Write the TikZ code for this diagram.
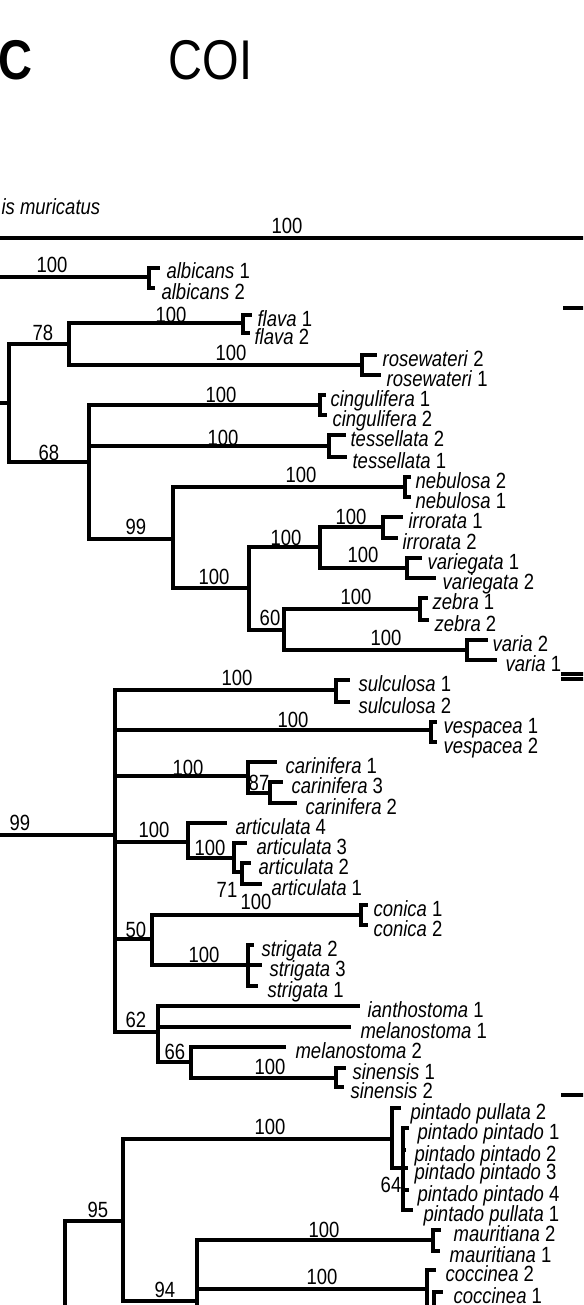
\documentclass[tikz,border=0pt]{standalone}
\usepackage{fontspec}
\setmainfont{Liberation Sans}
\newfontfamily\narfont[FakeStretch=0.84]{Liberation Sans}
\newcommand\leaf[5]{\coordinate (#1) at (#2,#3); \node[tax] (#1l) at (#4,{#3+11}) {#5};}
\newcommand\bs[4]{\node[num] (#1) at (#2,#3) {#4};}
\begin{document}
\begin{tikzpicture}[x=1pt,y=-1pt,line width=3.2pt, line join=miter,
  num/.style={font={\narfont\fontsize{22}{24}\selectfont}, inner sep=0pt, anchor=center},
  tax/.style={font={\narfont\fontsize{22}{24}\selectfont}, inner sep=0pt, anchor=base west},
  ttl/.style={font={\narfont\fontsize{56}{60}\selectfont}, inner sep=0pt, anchor=base west}]
\useasboundingbox (0,0) rectangle (583,1305);
\clip (0,0) rectangle (583,1305);
\fill[white] (0,0) rectangle (583,1305);
% titles
\node[ttl,font={\narfont\bfseries\fontsize{56}{60}\selectfont}] (ttlC) at (-3,80) {C};
\node[ttl] (ttlCOI) at (167,80) {COI};
% outgroup / root
\node[tax] (outg) at (0,215) {\textit{is muricatus}};
\coordinate (oL) at (0,238); \coordinate (oR) at (590,238);
\draw (oL) -- (oR);
\bs{b0}{287}{226}{100}
% right marks
\coordinate (m1a) at (563,308); \coordinate (m1b) at (590,308);
\coordinate (m2a) at (561,674); \coordinate (m2b) at (590,674);
\coordinate (m3a) at (561,679); \coordinate (m3b) at (590,679);
\coordinate (m4a) at (561,1095); \coordinate (m4b) at (590,1095);
\draw (m1a) -- (m1b); \draw (m2a) -- (m2b); \draw (m3a) -- (m3b); \draw (m4a) -- (m4b);
% albicans
\coordinate (albP) at (0,277); \coordinate (albB) at (149,277);
\draw (albP) -- (albB);
\bs{b1}{52}{265}{100}
\leaf{alb1}{160}{268}{165}{\textit{albicans} 1}
\leaf{alb2}{155}{288}{160}{\textit{albicans} 2}
\draw (albB) |- (alb1); \draw (albB) |- (alb2);
% clade A
\coordinate (AP) at (0,403); \coordinate (nA) at (9,403);
\draw (AP) -- (nA);
\coordinate (n78) at (69,344); \draw (nA) |- (n78); \bs{b2}{43}{333}{78}
\coordinate (flaB) at (243,323); \draw (n78) |- (flaB); \bs{b3}{171}{315}{100}
\leaf{fla1}{252}{315}{256}{\textit{flava} 1}
\leaf{fla2}{250}{333}{253}{\textit{flava} 2}
\draw (flaB) |- (fla1); \draw (flaB) |- (fla2);
\coordinate (rosB) at (362,365); \draw (n78) |- (rosB); \bs{b4}{231}{353}{100}
\leaf{ros2}{377}{355}{381}{\textit{rosewateri} 2}
\leaf{ros1}{381}{375}{385}{\textit{rosewateri} 1}
\draw (rosB) |- (ros2); \draw (rosB) |- (ros1);
\coordinate (n68) at (89,462); \draw (nA) |- (n68); \bs{b5}{49}{453}{68}
\coordinate (cinB) at (320,405); \draw (n68) |- (cinB); \bs{b6}{221}{395}{100}
\leaf{cin1}{326}{395}{329}{\textit{cingulifera} 1}
\leaf{cin2}{327}{415}{331}{\textit{cingulifera} 2}
\draw (cinB) |- (cin1); \draw (cinB) |- (cin2);
\coordinate (tesB) at (329,446); \draw (n68) |- (tesB); \bs{b7}{223}{438}{100}
\leaf{tes2}{346}{435}{349}{\textit{tessellata} 2}
\leaf{tes1}{347}{457}{351}{\textit{tessellata} 1}
\draw (tesB) |- (tes2); \draw (tesB) |- (tes1);
\coordinate (n99) at (173,539); \draw (n68) |- (n99); \bs{b8}{136}{527}{99}
\coordinate (nebB) at (405,487); \draw (n99) |- (nebB); \bs{b9}{301}{475}{100}
\leaf{neb2}{411}{477}{414}{\textit{nebulosa} 2}
\leaf{neb1}{411}{497}{414}{\textit{nebulosa} 1}
\draw (nebB) |- (neb2); \draw (nebB) |- (neb1);
\coordinate (nAa) at (249,588); \draw (n99) |- (nAa); \bs{b10}{214}{577}{100}
\coordinate (nBb) at (320,547); \draw (nAa) |- (nBb); \bs{b11}{286}{538}{100}
\coordinate (irrB) at (383,527); \draw (nBb) |- (irrB); \bs{b12}{351}{517}{100}
\leaf{irr1}{403}{517}{407}{\textit{irrorata} 1}
\leaf{irr2}{398}{538}{401}{\textit{irrorata} 2}
\draw (irrB) |- (irr1); \draw (irrB) |- (irr2);
\coordinate (vrgB) at (407,568); \draw (nBb) |- (vrgB); \bs{b13}{363}{555}{100}
\leaf{vrg1}{422}{558}{426}{\textit{variegata} 1}
\leaf{vrg2}{436}{578}{441}{\textit{variegata} 2}
\draw (vrgB) |- (vrg1); \draw (vrgB) |- (vrg2);
\coordinate (n60) at (284,630); \draw (nAa) |- (n60); \bs{b14}{270}{618}{60}
\coordinate (zebB) at (420,609); \draw (n60) |- (zebB); \bs{b15}{356}{597}{100}
\leaf{zeb1}{428}{598}{431}{\textit{zebra} 1}
\leaf{zeb2}{429}{620}{433}{\textit{zebra} 2}
\draw (zebB) |- (zeb1); \draw (zebB) |- (zeb2);
\coordinate (vriB) at (467,650); \draw (n60) |- (vriB); \bs{b16}{386}{638}{100}
\leaf{vri2}{488}{640}{491}{\textit{varia} 2}
\leaf{vri1}{497}{660}{504}{\textit{varia} 1}
\draw (vriB) |- (vri2); \draw (vriB) |- (vri1);
% clade B
\coordinate (BP) at (0,835); \coordinate (nC) at (115,835);
\draw (BP) -- (nC); \bs{b17}{20}{823}{99}
\coordinate (sulB) at (336,690); \draw (nC) |- (sulB); \bs{b18}{237}{678}{100}
\leaf{sul1}{350}{680}{357}{\textit{sulculosa} 1}
\leaf{sul2}{350}{702}{357}{\textit{sulculosa} 2}
\draw (sulB) |- (sul1); \draw (sulB) |- (sul2);
\coordinate (vesB) at (431,730); \draw (nC) |- (vesB); \bs{b19}{293}{720}{100}
\leaf{ves1}{437}{722}{442}{\textit{vespacea} 1}
\leaf{ves2}{437}{742}{442}{\textit{vespacea} 2}
\draw (vesB) |- (ves1); \draw (vesB) |- (ves2);
\coordinate (cara) at (248,776); \draw (nC) |- (cara); \bs{b20}{188}{768}{100}
\leaf{car1}{277}{762}{284}{\textit{carinifera} 1}
\draw (cara) |- (car1);
\coordinate (carb) at (270,793); \draw (cara) |- (carb); \bs{b21}{259}{783}{87}
\leaf{car3}{283}{782}{290}{\textit{carinifera} 3}
\leaf{car2}{297}{803}{304}{\textit{carinifera} 2}
\draw (carb) |- (car3); \draw (carb) |- (car2);
\coordinate (arta) at (188,842); \draw (nC) |- (arta); \bs{b22}{154}{830}{100}
\leaf{art4}{227}{823}{234}{\textit{articulata} 4}
\draw (arta) |- (art4);
\coordinate (artb) at (234,858); \draw (arta) |- (artb); \bs{b23}{210}{848}{100}
\leaf{art3}{247}{843}{255}{\textit{articulata} 3}
\draw (artb) |- (art3);
\coordinate (artc) at (242,872); \draw (artb) |- (artc); \bs{b24}{227}{890}{71}
\leaf{art2}{251}{863}{257}{\textit{articulata} 2}
\leaf{art1}{262}{884}{270}{\textit{articulata} 1}
\draw (artc) |- (art2); \draw (artc) |- (art1);
\coordinate (n50) at (152,939); \draw (nC) |- (n50); \bs{b25}{136}{930}{50}
\coordinate (conB) at (361,915); \draw (n50) |- (conB); \bs{b26}{256}{902}{100}
\leaf{con1}{368}{905}{372}{\textit{conica} 1}
\leaf{con2}{368}{925}{372}{\textit{conica} 2}
\draw (conB) |- (con1); \draw (conB) |- (con2);
\coordinate (strB) at (248,965); \draw (n50) |- (strB); \bs{b27}{204}{955}{100}
\leaf{str2}{254}{945}{260}{\textit{strigata} 2}
\leaf{str3}{262}{965}{268}{\textit{strigata} 3}
\leaf{str1}{258}{986}{266}{\textit{strigata} 1}
\draw (strB) |- (str2); \draw (strB) |- (str3); \draw (strB) |- (str1);
\coordinate (n62) at (158,1032); \draw (nC) |- (n62); \bs{b28}{136}{1020}{62}
\leaf{ian1}{360}{1006}{366}{\textit{ianthostoma} 1}
\leaf{mel1}{351}{1027}{359}{\textit{melanostoma} 1}
\draw (n62) |- (ian1); \draw (n62) |- (mel1);
\coordinate (n66) at (191,1062); \draw (n62) |- (n66); \bs{b29}{175}{1052}{66}
\leaf{mel2}{286}{1047}{294}{\textit{melanostoma} 2}
\draw (n66) |- (mel2);
\coordinate (sinB) at (336,1078); \draw (n66) |- (sinB); \bs{b30}{270}{1067}{100}
\leaf{sin1}{346}{1068}{351}{\textit{sinensis} 1}
\leaf{sin2}{344}{1087}{349}{\textit{sinensis} 2}
\draw (sinB) |- (sin1); \draw (sinB) |- (sin2);
% clade C
\coordinate (c65) at (65,1320); \coordinate (n95) at (123,1221);
\draw (c65) |- (n95); \bs{b31}{98}{1210}{95}
\coordinate (pinB) at (392,1139); \draw (n95) |- (pinB); \bs{b32}{270}{1127}{100}
\leaf{pul2}{401}{1108}{409}{\textit{pintado pullata} 2}
\draw (pinB) |- (pul2);
\coordinate (n64) at (403,1168); \draw (pinB) |- (n64); \bs{b33}{391}{1185}{64}
\leaf{pin1}{409}{1128}{416}{\textit{pintado pintado} 1}
\leaf{pin2}{406}{1150}{413}{\textit{pintado pintado} 2}
\leaf{pin3}{408}{1168}{413}{\textit{pintado pintado} 3}
\leaf{pin4}{409}{1190}{416}{\textit{pintado pintado} 4}
\leaf{pul1}{413}{1210}{422}{\textit{pintado pullata} 1}
\draw (n64) |- (pin1); \draw (n64) |- (pin2); \draw (n64) |- (pin3);
\draw (n64) |- (pin4); \draw (n64) |- (pul1);
\coordinate (n94) at (197,1301); \draw (n95) |- (n94); \bs{b34}{165}{1290}{94}
\coordinate (n94d) at (197,1320); \draw (n94) -- (n94d);
\coordinate (mauB) at (433,1240); \draw (n94) |- (mauB); \bs{b35}{324}{1230}{100}
\leaf{mau2}{441}{1230}{452}{\textit{mauritiana} 2}
\leaf{mau1}{440}{1251}{448}{\textit{mauritiana} 1}
\draw (mauB) |- (mau2); \draw (mauB) |- (mau1);
\coordinate (cocB) at (427,1289); \draw (n94) |- (cocB); \bs{b36}{322}{1277}{100}
\leaf{coc2}{436}{1270}{444}{\textit{coccinea} 2}
\draw (cocB) |- (coc2);
\coordinate (cocN) at (434,1320); \draw (cocB) |- (cocN);
\leaf{coc1}{443}{1292}{452}{\textit{coccinea} 1}
\draw (cocN) |- (coc1);
\end{tikzpicture}
\end{document}
